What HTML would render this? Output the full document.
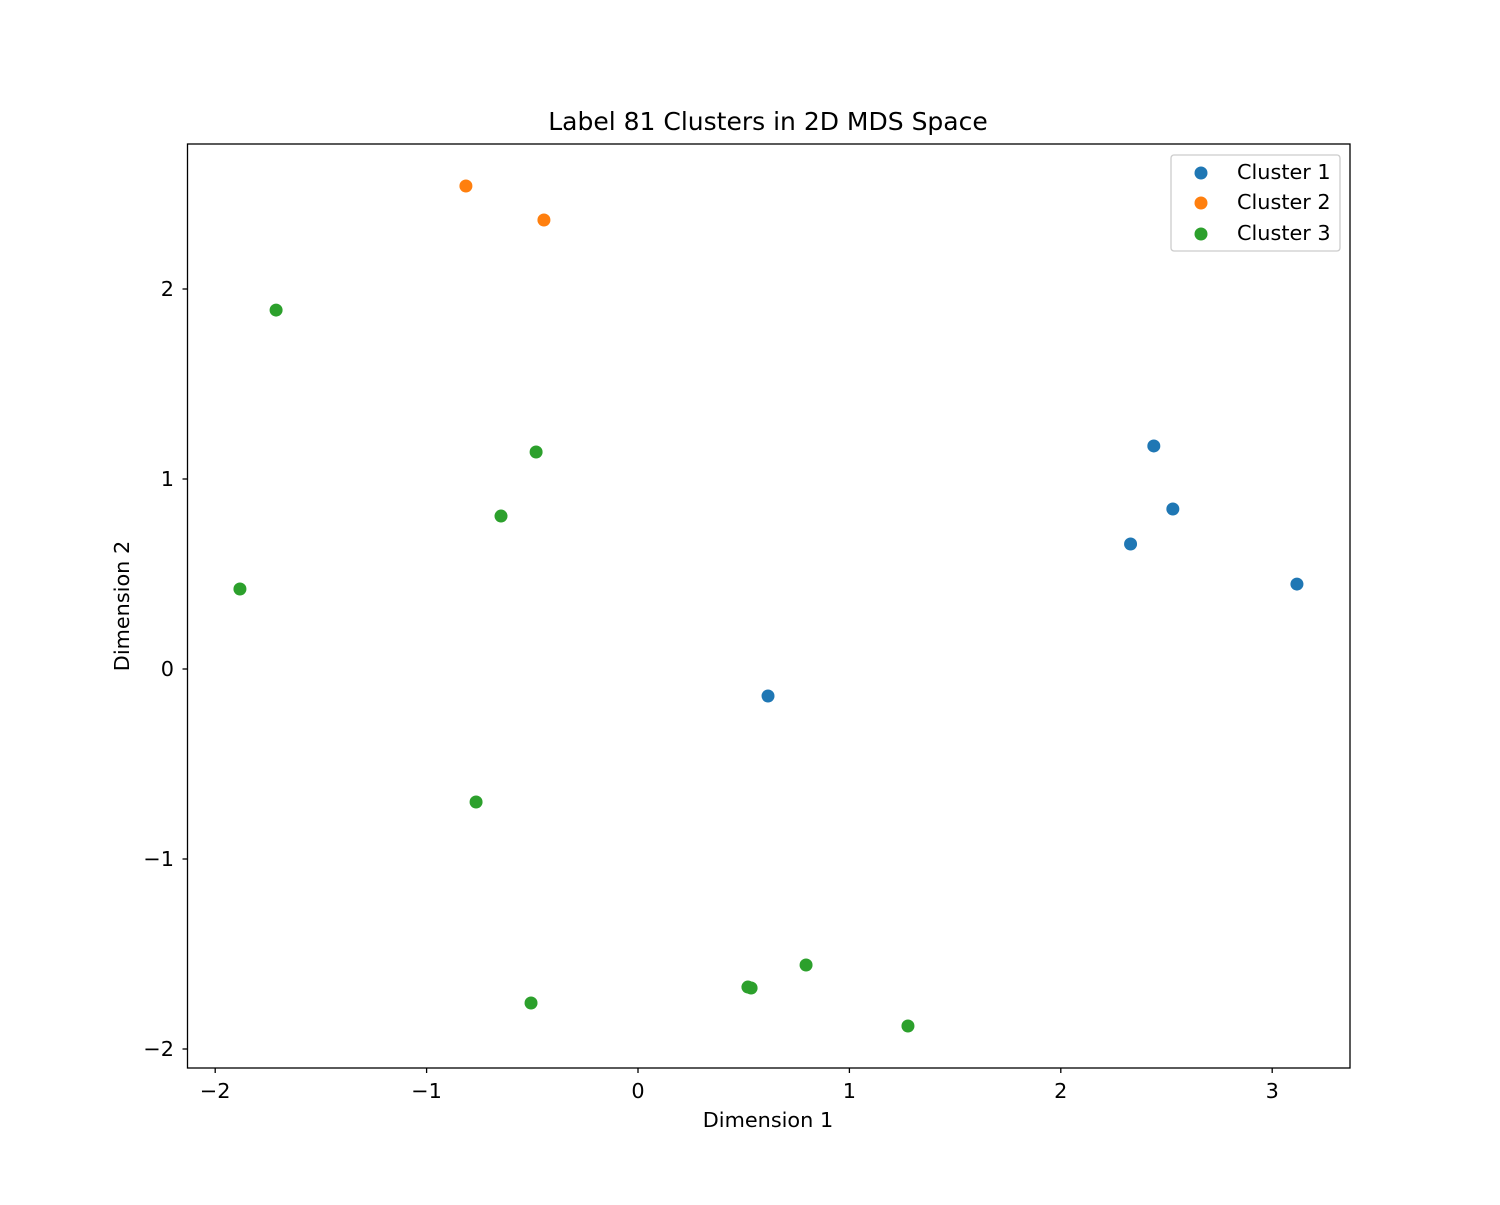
<!DOCTYPE html>
<html><head><meta charset="utf-8"><style>
body{margin:0;background:#fff;}
text{font-family:"DejaVu Sans","Liberation Sans",sans-serif;fill:#000;}
</style></head><body>
<svg id="chart" width="1500" height="1200" xmlns="http://www.w3.org/2000/svg">
<rect width="1500" height="1200" fill="#fff"/>
<text x="768" y="130" font-size="25" text-anchor="middle">Label 81 Clusters in 2D MDS Space</text>
<g id="axes"></g>
<g id="marks"></g>
<rect x="187.5" y="144" width="1162.5" height="924" fill="none" stroke="#000" stroke-width="1.3"/>
<text x="768" y="1127" font-size="20.8" text-anchor="middle">Dimension 1</text>
<text transform="translate(129,606) rotate(-90)" font-size="20.8" text-anchor="middle">Dimension 2</text>
<g>
<rect x="1171" y="155" width="169" height="96" rx="3" fill="#fff" stroke="#ccc" stroke-width="1.3"/>
<g><circle cx="1201" cy="173" r="6.5" fill="#1f77b4"/><text x="1237" y="179" font-size="20.8">Cluster 1</text></g>
<g><circle cx="1201" cy="203" r="6.5" fill="#ff7f0e"/><text x="1237" y="209" font-size="20.8">Cluster 2</text></g>
<g><circle cx="1201" cy="234" r="6.5" fill="#2ca02c"/><text x="1237" y="240" font-size="20.8">Cluster 3</text></g>
</g>
</svg>
<script>
const xTicks = [-2, -1, 0, 1, 2, 3];
const yTicks = [-2, -1, 0, 1, 2];
const c1x = [2.44, 2.53, 2.33, 3.117, 0.615];
const c1y = [1.174, 0.842, 0.658, 0.447, -0.142];
const c2x = [-0.814, -0.445];
const c2y = [2.542, 2.363];
const c3x = [-1.712, -0.482, -0.648, -1.883, -0.766, -0.506, 0.520, 0.535, 0.795, 1.277];
const c3y = [1.889, 1.142, 0.805, 0.421, -0.700, -1.758, -1.674, -1.679, -1.558, -1.879];

const NS = "http://www.w3.org/2000/svg";
function sx(v){ return 638 + v * 211.4; }
function sy(v){ return 669 - v * 190; }
function fmt(v){ return v < 0 ? "\u2212" + Math.abs(v) : String(v); }
const axes = document.getElementById("axes");
const marks = document.getElementById("marks");
xTicks.forEach(t => {
  const l = document.createElementNS(NS, "line");
  
  
  l.setAttribute("x1", sx(t)); l.setAttribute("x2", sx(t));
  l.setAttribute("y1", 1068); l.setAttribute("y2", 1073);
  l.setAttribute("stroke", "#000"); l.setAttribute("stroke-width", "1.3");
  axes.appendChild(l);
  const tx = document.createElementNS(NS, "text");
  
  
  tx.setAttribute("x", sx(t)); tx.setAttribute("y", 1098);
  tx.setAttribute("font-size", "20.8"); tx.setAttribute("text-anchor", "middle");
  tx.textContent = fmt(t);
  axes.appendChild(tx);
});
yTicks.forEach(t => {
  const l = document.createElementNS(NS, "line");
  
  
  l.setAttribute("x1", 182.5); l.setAttribute("x2", 187.5);
  l.setAttribute("y1", sy(t)); l.setAttribute("y2", sy(t));
  l.setAttribute("stroke", "#000"); l.setAttribute("stroke-width", "1.3");
  axes.appendChild(l);
  const tx = document.createElementNS(NS, "text");
  
  
  tx.setAttribute("x", 174); tx.setAttribute("y", sy(t) + 7);
  tx.setAttribute("font-size", "20.8"); tx.setAttribute("text-anchor", "end");
  tx.textContent = fmt(t);
  axes.appendChild(tx);
});
function drawSeries(xs, ys, color, name){
  xs.forEach((x, i) => {
    const c = document.createElementNS(NS, "circle");
    
    
    c.setAttribute("cx", sx(x)); c.setAttribute("cy", sy(ys[i]));
    c.setAttribute("r", 6.5); c.setAttribute("fill", color);
    marks.appendChild(c);
  });
}
drawSeries(c1x, c1y, "#1f77b4", "cluster-1-point");
drawSeries(c2x, c2y, "#ff7f0e", "cluster-2-point");
drawSeries(c3x, c3y, "#2ca02c", "cluster-3-point");
</script>
</body></html>
